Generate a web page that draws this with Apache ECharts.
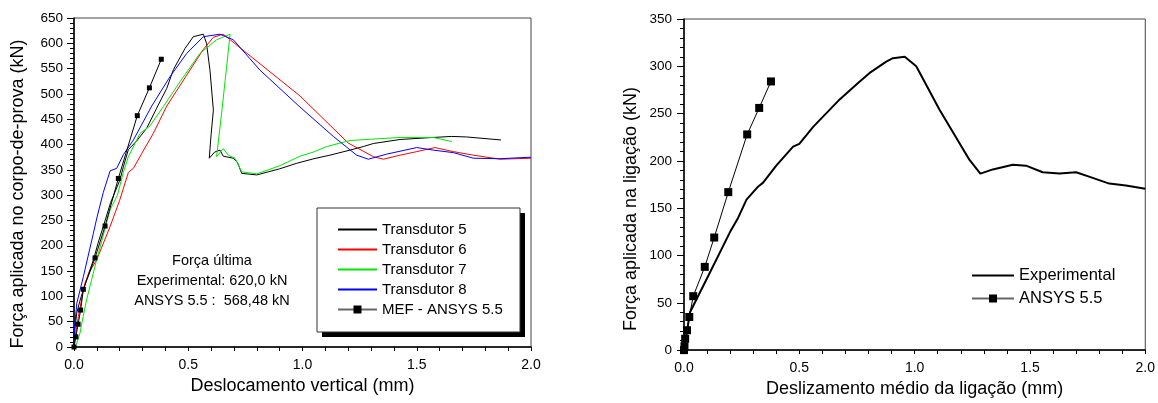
<!DOCTYPE html>
<html>
<head>
<meta charset="utf-8">
<script src="https://cdn.jsdelivr.net/npm/echarts@6/dist/echarts.min.js"></script>
<style>
  html, body { margin: 0; padding: 0; background: #fff; }
  #chart { width: 1158px; height: 403px; }
</style>
</head>
<body>
<div id="chart"></div>
<script>
/* ---- data (left: deslocamento vertical [mm] x forca [kN]) ---- */
var transdutor5 = [[0,0],[0.005,40],[0.012,67],[0.025,90],[0.041,113],[0.06,140],[0.085,172],[0.105,205],[0.128,238],[0.16,285],[0.201,330],[0.216,356],[0.238,390],[0.274,407],[0.318,432],[0.362,472],[0.406,511],[0.435,548],[0.486,590],[0.522,613],[0.566,618],[0.58,600],[0.595,547],[0.61,468],[0.60,420],[0.592,373],[0.615,385],[0.639,389],[0.653,377],[0.697,373],[0.715,365],[0.734,343],[0.80,340],[0.85,346],[0.90,352],[0.975,363],[1.05,372],[1.12,379],[1.208,389],[1.266,396],[1.31,402],[1.427,410],[1.572,414],[1.653,416],[1.718,415],[1.869,409]];
var transdutor6 = [[0,0],[0.005,20],[0.019,60],[0.038,106],[0.048,126],[0.07,150],[0.099,172],[0.158,238],[0.2,290],[0.238,345],[0.26,353],[0.3,385],[0.347,422],[0.406,476],[0.493,537],[0.566,588],[0.61,612],[0.653,618],[0.989,496],[1.2,403],[1.31,376],[1.354,371],[1.427,379],[1.5,386],[1.58,394],[1.66,386],[1.748,379],[1.864,371],[2.0,373]];
var transdutor7 = [[0,0],[0.01,5],[0.026,27],[0.04,60],[0.055,93],[0.099,172],[0.158,271],[0.19,300],[0.216,345],[0.238,376],[0.289,422],[0.333,437],[0.391,475],[0.464,524],[0.551,580],[0.624,607],[0.683,618],[0.668,554],[0.646,462],[0.624,376],[0.653,392],[0.675,379],[0.705,373],[0.734,346],[0.80,342],[0.90,358],[0.989,377],[1.047,385],[1.106,396],[1.208,408],[1.427,414],[1.572,414],[1.653,406]];
var transdutor8 = [[0,0],[0.002,34],[0.012,86],[0.041,139],[0.085,225],[0.1,255],[0.128,305],[0.158,348],[0.187,353],[0.216,380],[0.26,409],[0.34,476],[0.42,534],[0.493,580],[0.566,613],[0.639,618],[0.697,607],[0.814,547],[0.989,474],[1.135,416],[1.237,379],[1.288,371],[1.368,381],[1.5,394],[1.572,389],[1.66,384],[1.748,373],[1.864,372],[2.0,375]];
var mefAnsys = [[0,0],[0.008,20],[0.018,45],[0.029,73],[0.041,114],[0.092,176],[0.136,239],[0.194,333],[0.277,457],[0.330,512],[0.382,568.5]];

/* ---- data (right: deslizamento medio [mm] x forca [kN]) ---- */
var experimental = [[0,0],[0.01,15],[0.026,40],[0.1,76],[0.2,125],[0.235,140],[0.271,159],[0.322,173],[0.343,177],[0.4,195],[0.473,215],[0.5,218],[0.56,236],[0.675,265],[0.762,284],[0.805,293],[0.877,305],[0.906,308.6],[0.957,310],[0.964,309.6],[1.007,300],[1.108,254],[1.238,201],[1.285,186.6],[1.339,191],[1.426,196],[1.483,195],[1.555,188],[1.628,186.6],[1.70,188],[1.772,182],[1.844,176],[1.916,174],[2.0,170.5]];
var ansys = [[0,0],[0.002,4],[0.005,12],[0.013,21],[0.023,35],[0.04,57],[0.09,88],[0.131,119],[0.192,167],[0.274,228],[0.326,256],[0.377,284]];

var notaLinhas = ['Força última', 'Experimental: 620,0 kN', 'ANSYS 5.5 :  568,48 kN'];

var FONT = 'Arial, "Liberation Sans", sans-serif';

function xAxisCfg(idx, name, gap) {
  return {
    gridIndex: idx, type: 'value', min: 0, max: 2, interval: 0.5,
    name: name, nameLocation: 'middle', nameGap: gap,
    nameTextStyle: { fontFamily: FONT, fontSize: 18, color: '#000' },
    axisLine: { onZero: false, lineStyle: { color: '#000', width: 1.5 } },
    axisTick: { inside: false, length: 4, lineStyle: { color: '#000' } },
    minorTick: { show: true, splitNumber: 5, length: 4, lineStyle: { color: '#000' } },
    axisLabel: { margin: 11, fontFamily: FONT, fontSize: 14, color: '#000',
      formatter: function (v) { return v.toFixed(1); } },
    splitLine: { show: false }
  };
}
function yAxisCfg(idx, max, margin) {
  return {
    gridIndex: idx, type: 'value', min: 0, max: max, interval: 50,
    axisLine: { onZero: false, lineStyle: { color: '#000', width: 1.5 } },
    axisTick: { inside: false, length: 7, lineStyle: { color: '#000' } },
    minorTick: { show: true, splitNumber: 5, length: 4, lineStyle: { color: '#000' } },
    axisLabel: { margin: margin, fontFamily: FONT, fontSize: 13.5, color: '#000' },
    splitLine: { show: false }
  };
}

// legend entry with only a line (hide the default circle)
function soLinha(nome) {
  return { name: nome, itemStyle: { opacity: 0 } };
}
function texto(t, x, y, size, rot) {
  return { type: 'text', z: 5, x: x, y: y, rotation: rot || 0,
    style: { text: t, font: size + 'px ' + FONT, fill: '#000', textAlign: 'center', textVerticalAlign: 'middle' } };
}

var chart = echarts.init(document.getElementById('chart'), null, { renderer: 'canvas' });

var option = {
  animation: false,
  backgroundColor: '#fff',
  grid: [
    { left: 74, top: 18, width: 457, height: 329, show: true, borderColor: '#444', borderWidth: 1 },
    { left: 684, top: 19, width: 462, height: 332, show: true, borderColor: '#444', borderWidth: 1 }
  ],
  xAxis: [
    xAxisCfg(0, 'Deslocamento vertical (mm)', 29),
    xAxisCfg(1, 'Deslizamento médio da ligação (mm)', 24)
  ],
  yAxis: [
    yAxisCfg(0, 650, 11),
    yAxisCfg(1, 350, 12)
  ],
  legend: [
    {
      left: 337, top: 222, padding: 0, orient: 'vertical', itemWidth: 39, itemHeight: 10, itemGap: 5,
      textStyle: { fontFamily: FONT, fontSize: 15, color: '#000', lineHeight: 15 },
      data: [soLinha('Transdutor 5'), soLinha('Transdutor 6'), soLinha('Transdutor 7'), soLinha('Transdutor 8'),
        { name: 'MEF - ANSYS 5.5', lineStyle: { color: '#666' } }]
    },
    {
      left: 971, top: 267, padding: 0, orient: 'vertical', itemWidth: 42, itemHeight: 10, itemGap: 6,
      textStyle: { fontFamily: FONT, fontSize: 16.5, color: '#000', lineHeight: 16 },
      data: [soLinha('Experimental'), { name: 'ANSYS 5.5', lineStyle: { color: '#666' } }]
    }
  ],
  graphic: [
    { type: 'rect', z: 1, shape: { x: 322, y: 213, width: 203, height: 124 }, style: { fill: '#000' } },
    { type: 'rect', z: 1, shape: { x: 317, y: 208, width: 203, height: 124 }, style: { fill: '#fff', stroke: '#333', lineWidth: 1 } },
    texto(notaLinhas[0], 212, 261, 14.5),
    texto(notaLinhas[1], 212, 281, 14.5),
    texto(notaLinhas[2], 212, 301, 14.5),
    texto('Força aplicada no corpo-de-prova (kN)', 18, 194, 18, Math.PI / 2),
    texto('Força aplicada na ligação (kN)', 631, 209, 18, Math.PI / 2)
  ],
  series: [
    { name: 'Transdutor 5', type: 'line', xAxisIndex: 0, yAxisIndex: 0, data: transdutor5, symbol: 'none', color: '#000', lineStyle: { width: 1 } },
    { name: 'Transdutor 6', type: 'line', xAxisIndex: 0, yAxisIndex: 0, data: transdutor6, symbol: 'none', color: '#ff0000', lineStyle: { width: 1 } },
    { name: 'Transdutor 7', type: 'line', xAxisIndex: 0, yAxisIndex: 0, data: transdutor7, symbol: 'none', color: '#00e600', lineStyle: { width: 1 } },
    { name: 'Transdutor 8', type: 'line', xAxisIndex: 0, yAxisIndex: 0, data: transdutor8, symbol: 'none', color: '#0000ff', lineStyle: { width: 1 } },
    { name: 'MEF - ANSYS 5.5', type: 'line', xAxisIndex: 0, yAxisIndex: 0, data: mefAnsys, symbol: 'rect', symbolSize: 5, color: '#000', lineStyle: { width: 1, color: '#000' } },
    { name: 'Experimental', type: 'line', xAxisIndex: 1, yAxisIndex: 1, data: experimental, symbol: 'none', color: '#000', lineStyle: { width: 2 } },
    { name: 'ANSYS 5.5', type: 'line', xAxisIndex: 1, yAxisIndex: 1, data: ansys, symbol: 'rect', symbolSize: 8, color: '#000', lineStyle: { width: 1, color: '#000' } }
  ]
};

chart.setOption(option);
</script>
</body>
</html>
